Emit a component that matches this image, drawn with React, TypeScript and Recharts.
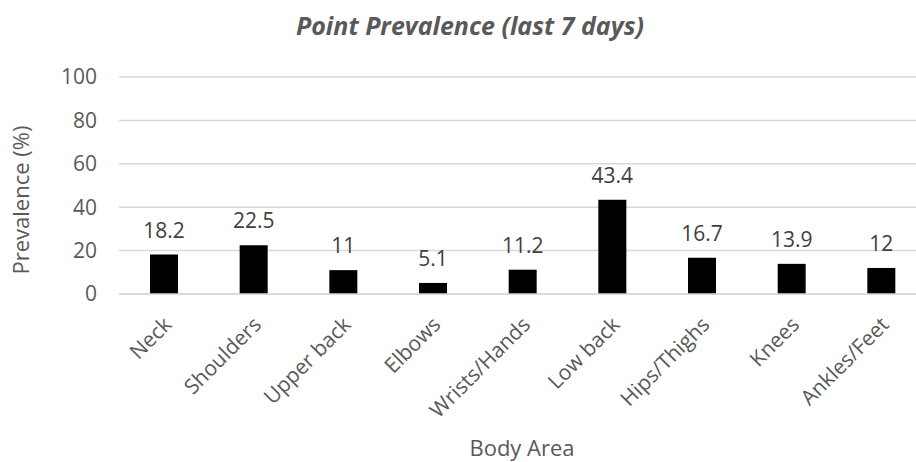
import React from "react";
import { BarChart, Bar, XAxis, YAxis, CartesianGrid, LabelList } from "recharts";

const categories = ["Neck", "Shoulders", "Upper back", "Elbows", "Wrists/Hands", "Low back", "Hips/Thighs", "Knees", "Ankles/Feet"];
const prevalence = [18.2, 22.5, 11, 5.1, 11.2, 43.4, 16.7, 13.9, 12];
const yTicks = [0, 20, 40, 60, 80, 100];

const data = categories.map((c, i) => ({ name: c, value: prevalence[i] }));

const FONT = "'Open Sans', sans-serif";
const GRAY = "#595959";

const CatTick = (props: any) => {
  const { x, y, payload } = props;
  return (
    <text
      transform={`translate(${x + 9},${y + 24}) rotate(-45)`}
      textAnchor="end"
      fontFamily={FONT}
      fontSize={21}
      fill={GRAY}
    >
      {payload.value}
    </text>
  );
};

export default function App() {
  return (
    <div style={{ position: "fixed", left: 0, top: 0, width: 916, height: 462, overflow: "hidden", background: "#fff" }}>
      <style>{"body{margin:0;overflow:hidden}"}</style>
      <BarChart
        width={940}
        height={462}
        data={data}
        margin={{ top: 77, right: 14, bottom: 68, left: 59 }}
      >
        <text x={470} y={35} textAnchor="middle" fontFamily={FONT} fontSize={25} fontWeight="bold" fontStyle="italic" fill={GRAY}>
          Point Prevalence (last 7 days)
        </text>
        <text transform="translate(29,200) rotate(-90)" textAnchor="middle" fontFamily={FONT} fontSize={22} fill={GRAY}>
          Prevalence (%)
        </text>
        <text x={522} y={456} textAnchor="middle" fontFamily={FONT} fontSize={22} fill={GRAY}>
          Body Area
        </text>
        <CartesianGrid vertical={false} stroke="#d9d9d9" strokeWidth={1.5} />
        <XAxis
          dataKey="name"
          height={100}
          interval={0}
          tickLine={false}
          axisLine={{ stroke: "#d9d9d9", strokeWidth: 1.5 }}
          tick={<CatTick />}
        />
        <YAxis
          width={60}
          domain={[0, 100]}
          ticks={yTicks}
          tickLine={false}
          axisLine={false}
          tickSize={0}
          tickMargin={22}
          tick={{ fontFamily: FONT, fontSize: 21, fill: GRAY }}
        />
        <Bar dataKey="value" fill="#000" barSize={28} isAnimationActive={false}>
          <LabelList dataKey="value" position="top" offset={17} fontFamily={FONT} fontSize={21} fill="#404040" />
        </Bar>
      </BarChart>
    </div>
  );
}
